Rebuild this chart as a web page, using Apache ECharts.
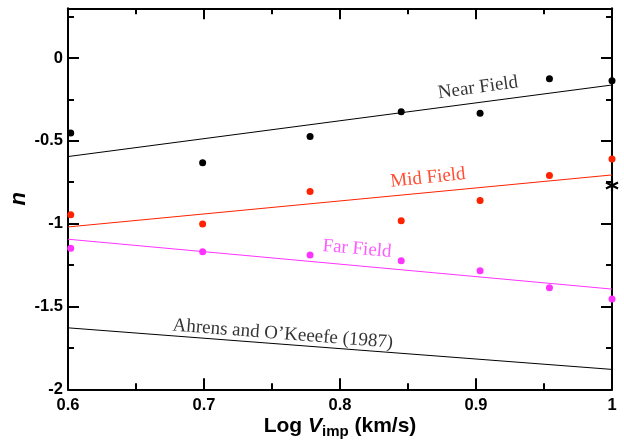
<!DOCTYPE html>
<html><head><meta charset="utf-8">
<script src="https://cdn.jsdelivr.net/npm/echarts@6/dist/echarts.min.js"></script>
<style>html,body{margin:0;padding:0;background:#fff}#c{width:624px;height:447px}</style>
</head><body><div id="c"></div>
<script>
// ---- data ----
const logV = [0.602, 0.699, 0.778, 0.845, 0.903, 0.954, 1.0];
const nearField = [-0.453, -0.633, -0.474, -0.325, -0.333, -0.125, -0.137];
const midField = [-0.947, -1.002, -0.806, -0.982, -0.861, -0.710, -0.609];
const farField = [-1.149, -1.169, -1.189, -1.224, -1.284, -1.387, -1.455];
const fitX = [0.6, 1.0];
const nearFit = [-0.595, -0.163];
const midFit = [-1.020, -0.706];
const farFit = [-1.094, -1.395];
const ahrensFit = [-1.629, -1.880];
const starX = [1.0];
const starY = [-0.77];
const xTickLabels = ['0.6', '0.7', '0.8', '0.9', '1'];
const yTickLabels = ['-2', '-1.5', '-1', '-0.5', '0'];
const annoText = ['Near Field', 'Mid Field', 'Far Field', 'Ahrens and O\u2019Keeefe (1987)'];
const annoX = [0.9015, 0.8647, 0.8125, 0.758];
const annoY = [-0.18, -0.724, -1.153, -1.667];
const annoAngle = [8, 6, -5, -4.5];

// ---- styles ----
const BLACK = '#000000', RED = '#ff2200', MAG = '#ff33ff';
const annoColor = [BLACK, RED, MAG, BLACK];
const zip = (xs, ys) => xs.map((x, i) => [x, ys[i]]);
const tickStyle = () => ({color: BLACK, width: 2});

function xAxisDef(pos, labels) {
  return {
    type: 'value', position: pos, min: 0.6, max: 1.0, interval: 0.1,
    axisLine: {show: true, onZero: false, lineStyle: {color: BLACK, width: 2}},
    axisTick: {show: true, inside: true, length: 11, lineStyle: tickStyle()},
    minorTick: {show: true, splitNumber: 2, length: 6, lineStyle: tickStyle()},
    splitLine: {show: false}, minorSplitLine: {show: false},
    axisLabel: labels ? {
      show: true, margin: 8, color: BLACK, fontSize: 16.5, fontWeight: 'bold',
      fontFamily: 'Liberation Sans',
      formatter: v => { const i = Math.round((v - 0.6) / 0.1); return xTickLabels[i] ?? ''; }
    } : {show: false}
  };
}
function yAxisDef(pos, interval, len, labels, line) {
  return {
    type: 'value', position: pos, min: -2, max: 0.3, interval: interval,
    axisLine: {show: line, onZero: false, lineStyle: {color: BLACK, width: 2}},
    axisTick: {show: true, inside: true, length: len, lineStyle: tickStyle()},
    splitLine: {show: false},
    axisLabel: labels ? {
      show: true, margin: 5, color: BLACK, fontSize: 16.5, fontWeight: 'bold',
      fontFamily: 'Liberation Sans', showMaxLabel: false,
      formatter: v => { const i = Math.round((v + 2) / 0.5); return (Math.abs(v + 2 - i * 0.5) < 1e-6) ? (yTickLabels[i] ?? '') : ''; }
    } : {show: false}
  };
}

const xMain = xAxisDef('bottom', true);
xMain.name = '{b|Log }{i|V}{s|imp}{b| (km/s)}';
xMain.nameLocation = 'middle';
xMain.nameGap = 23;
xMain.nameMoveOverlap = false;
xMain.nameTextStyle = {
  color: BLACK, fontFamily: 'Liberation Sans',
  rich: {
    b: {fontSize: 21, fontWeight: 'bold', fontFamily: 'Liberation Sans', color: BLACK},
    i: {fontSize: 21, fontWeight: 'bold', fontStyle: 'italic', fontFamily: 'Liberation Sans', color: BLACK},
    s: {fontSize: 15, fontWeight: 'bold', fontFamily: 'Liberation Sans', color: BLACK, padding: [12, 0, 0, 0]}
  }
};

const yMain = yAxisDef('left', 0.5, 11, true, true);
yMain.name = 'n';
yMain.nameLocation = 'middle';
yMain.nameGap = 38;
yMain.nameMoveOverlap = false;
yMain.nameTextStyle = {color: BLACK, fontSize: 22, fontWeight: 'bold', fontStyle: 'italic', fontFamily: 'Liberation Sans'};

const lineSeries = (data, color) => ({
  type: 'line', data: zip(fitX, data), symbol: 'none', silent: true,
  lineStyle: {color: color, width: 1}, z: 2
});
const dotSeries = (data, color) => ({
  type: 'scatter', data: zip(logV, data), symbol: 'circle', symbolSize: 7,
  itemStyle: {color: color, opacity: 1}, z: 3, clip: false
});

const option = {
  animation: false,
  backgroundColor: '#ffffff',
  grid: {left: 68, right: 12, top: 8.3, bottom: 57.7, containLabel: false, outerBoundsMode: 'none'},
  xAxis: [xMain, xAxisDef('top', false)],
  yAxis: [yMain, yAxisDef('left', 0.25, 6, false, false),
          yAxisDef('right', 0.5, 11, false, true), yAxisDef('right', 0.25, 6, false, false)],
  series: [
    lineSeries(nearFit, BLACK),
    lineSeries(midFit, RED),
    lineSeries(farFit, MAG),
    lineSeries(ahrensFit, BLACK),
    dotSeries(nearField, BLACK),
    dotSeries(midField, RED),
    dotSeries(farField, MAG),
    {
      type: 'scatter', data: zip(starX, starY), clip: false, z: 4,
      symbol: 'path://M0,-10L0,10M-8.66,-5L8.66,5M-8.66,5L8.66,-5',
      symbolSize: 12,
      itemStyle: {color: 'rgba(0,0,0,0)', borderColor: BLACK, borderWidth: 2.2, opacity: 1}
    },
    {
      type: 'scatter', symbolSize: 0, silent: true, z: 5, clip: false,
      data: annoText.map((t, i) => ({
        value: [annoX[i], annoY[i]], name: t,
        label: {
          show: true, formatter: t, rotate: annoAngle[i], position: 'inside',
          align: 'center', verticalAlign: 'middle', textBorderWidth: 0,
          color: annoColor[i], fontSize: 19, fontFamily: 'Liberation Serif'
        }
      }))
    }
  ]
};
const chart = echarts.init(document.getElementById('c'));
chart.setOption(option);
</script></body></html>
